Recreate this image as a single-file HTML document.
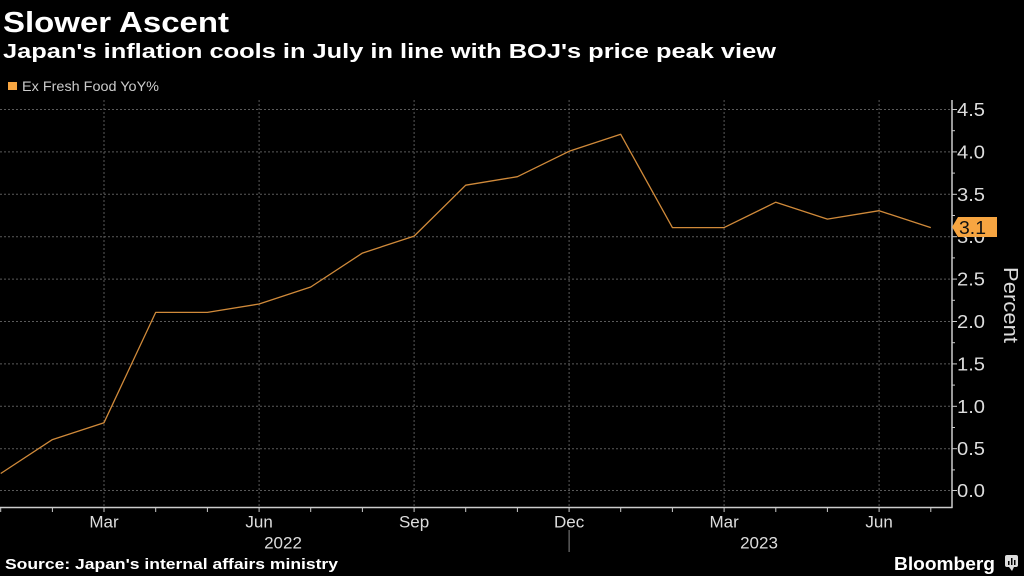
<!DOCTYPE html>
<html><head><meta charset="utf-8"><style>
html,body{margin:0;padding:0;background:#000;}
svg{display:block;}
text{font-family:"Liberation Sans",sans-serif;}
</style></head><body>
<svg width="1024" height="576" viewBox="0 0 1024 576" xmlns="http://www.w3.org/2000/svg">
<rect width="1024" height="576" fill="#000"/>
<text x="3" y="32" font-size="29" font-weight="bold" fill="#fff" textLength="226" lengthAdjust="spacingAndGlyphs">Slower Ascent</text>
<text x="3" y="58" font-size="20" font-weight="bold" fill="#fff" textLength="773" lengthAdjust="spacingAndGlyphs">Japan's inflation cools in July in line with BOJ's price peak view</text>
<rect x="8" y="82" width="9" height="8" fill="#f7a541"/>
<text x="22" y="91" font-size="14" fill="#ccc" textLength="137" lengthAdjust="spacingAndGlyphs">Ex Fresh Food YoY%</text>

<!-- horizontal grid -->
<g stroke="#5a5a5a" stroke-width="1" stroke-dasharray="2,2">
<line x1="0" x2="952" y1="109.5" y2="109.5"/>
<line x1="0" x2="952" y1="151.9" y2="151.9"/>
<line x1="0" x2="952" y1="194.3" y2="194.3"/>
<line x1="0" x2="952" y1="236.7" y2="236.7"/>
<line x1="0" x2="952" y1="279.1" y2="279.1"/>
<line x1="0" x2="952" y1="321.5" y2="321.5"/>
<line x1="0" x2="952" y1="363.9" y2="363.9"/>
<line x1="0" x2="952" y1="406.3" y2="406.3"/>
<line x1="0" x2="952" y1="448.7" y2="448.7"/>
<line x1="0" x2="952" y1="490.5" y2="490.5"/>
</g>
<!-- vertical grid -->
<g stroke="#5a5a5a" stroke-width="1" stroke-dasharray="2,2">
<line x1="104" x2="104" y1="100" y2="507"/>
<line x1="259.1" x2="259.1" y1="100" y2="507"/>
<line x1="414.1" x2="414.1" y1="100" y2="507"/>
<line x1="569.1" x2="569.1" y1="100" y2="507"/>
<line x1="724.1" x2="724.1" y1="100" y2="507"/>
<line x1="879.1" x2="879.1" y1="100" y2="507"/>
</g>

<!-- axes -->
<line x1="0" x2="952.5" y1="507.5" y2="507.5" stroke="#ccc" stroke-width="1.5"/>
<line x1="952" x2="952" y1="100" y2="508" stroke="#ccc" stroke-width="1.5"/>
<g stroke="#ccc" stroke-width="1">
<line x1="0.7" x2="0.7" y1="507" y2="512"/>
<line x1="52.4" x2="52.4" y1="507" y2="512"/>
<line x1="104" x2="104" y1="507" y2="512"/>
<line x1="155.7" x2="155.7" y1="507" y2="512"/>
<line x1="207.4" x2="207.4" y1="507" y2="512"/>
<line x1="259.1" x2="259.1" y1="507" y2="512"/>
<line x1="310.7" x2="310.7" y1="507" y2="512"/>
<line x1="362.4" x2="362.4" y1="507" y2="512"/>
<line x1="414.1" x2="414.1" y1="507" y2="512"/>
<line x1="465.7" x2="465.7" y1="507" y2="512"/>
<line x1="517.4" x2="517.4" y1="507" y2="512"/>
<line x1="569.1" x2="569.1" y1="507" y2="512"/>
<line x1="620.7" x2="620.7" y1="507" y2="512"/>
<line x1="672.4" x2="672.4" y1="507" y2="512"/>
<line x1="724.1" x2="724.1" y1="507" y2="512"/>
<line x1="775.8" x2="775.8" y1="507" y2="512"/>
<line x1="827.4" x2="827.4" y1="507" y2="512"/>
<line x1="879.1" x2="879.1" y1="507" y2="512"/>
<line x1="930.8" x2="930.8" y1="507" y2="512"/>
</g>
<!-- y ticks -->
<g stroke="#ccc" stroke-width="1">
<line x1="952" x2="957" y1="109.5" y2="109.5"/>
<line x1="952" x2="957" y1="151.9" y2="151.9"/>
<line x1="952" x2="957" y1="194.3" y2="194.3"/>
<line x1="952" x2="957" y1="236.7" y2="236.7"/>
<line x1="952" x2="957" y1="279.1" y2="279.1"/>
<line x1="952" x2="957" y1="321.5" y2="321.5"/>
<line x1="952" x2="957" y1="363.9" y2="363.9"/>
<line x1="952" x2="957" y1="406.3" y2="406.3"/>
<line x1="952" x2="957" y1="448.7" y2="448.7"/>
<line x1="952" x2="957" y1="490.5" y2="490.5"/>
<line x1="952" x2="955" y1="130.7" y2="130.7"/>
<line x1="952" x2="955" y1="173.1" y2="173.1"/>
<line x1="952" x2="955" y1="215.5" y2="215.5"/>
<line x1="952" x2="955" y1="257.9" y2="257.9"/>
<line x1="952" x2="955" y1="300.3" y2="300.3"/>
<line x1="952" x2="955" y1="342.7" y2="342.7"/>
<line x1="952" x2="955" y1="385.1" y2="385.1"/>
<line x1="952" x2="955" y1="427.5" y2="427.5"/>
<line x1="952" x2="955" y1="469.9" y2="469.9"/>
</g>
<g font-size="18" fill="#ddd">
<text x="957" y="116" textLength="28" lengthAdjust="spacingAndGlyphs">4.5</text>
<text x="957" y="158.4" textLength="28" lengthAdjust="spacingAndGlyphs">4.0</text>
<text x="957" y="200.8" textLength="28" lengthAdjust="spacingAndGlyphs">3.5</text>
<text x="957" y="243.2" textLength="28" lengthAdjust="spacingAndGlyphs">3.0</text>
<text x="957" y="285.6" textLength="28" lengthAdjust="spacingAndGlyphs">2.5</text>
<text x="957" y="328" textLength="28" lengthAdjust="spacingAndGlyphs">2.0</text>
<text x="957" y="370.4" textLength="28" lengthAdjust="spacingAndGlyphs">1.5</text>
<text x="957" y="412.8" textLength="28" lengthAdjust="spacingAndGlyphs">1.0</text>
<text x="957" y="455.2" textLength="28" lengthAdjust="spacingAndGlyphs">0.5</text>
<text x="957" y="497" textLength="28" lengthAdjust="spacingAndGlyphs">0.0</text>
</g>
<text transform="translate(1004,305) rotate(90)" font-size="20" fill="#ddd" text-anchor="middle" textLength="76" lengthAdjust="spacingAndGlyphs">Percent</text>

<!-- series -->
<polyline fill="none" stroke="#d08a3a" stroke-width="1.3" stroke-linejoin="round" points="0.7,473.5 52.4,439.6 104,422.7 155.7,312.4 207.4,312.4 259.1,304.0 310.7,287.0 362.4,253.1 414.1,236.1 465.7,185.2 517.4,176.7 569.1,151.3 620.7,134.3 672.4,227.6 724.1,227.6 775.8,202.2 827.4,219.1 879.1,210.7 930.8,227.6"/>

<!-- last value label -->
<polygon points="952,227 958,217 997,217 997,237 958,237" fill="#f7a541"/>
<text x="959" y="234" font-size="18" fill="#111" textLength="27" lengthAdjust="spacingAndGlyphs">3.1</text>

<!-- x labels -->
<g font-size="17" fill="#ddd" text-anchor="middle">
<text x="104" y="527.5">Mar</text>
<text x="259.1" y="527.5">Jun</text>
<text x="414.1" y="527.5">Sep</text>
<text x="569.1" y="527.5">Dec</text>
<text x="724.1" y="527.5">Mar</text>
<text x="879.1" y="527.5">Jun</text>
<text x="283" y="548.5">2022</text>
<text x="759" y="548.5">2023</text>
</g>
<line x1="569.1" x2="569.1" y1="530" y2="552" stroke="#888" stroke-width="1"/>

<text x="5" y="569" font-size="15" font-weight="bold" fill="#fff" textLength="333" lengthAdjust="spacingAndGlyphs">Source: Japan's internal affairs ministry</text>
<text x="894" y="570" font-size="18" font-weight="bold" fill="#fff" textLength="101" lengthAdjust="spacingAndGlyphs">Bloomberg</text>
<g>
<rect x="1005" y="555" width="13" height="12" rx="2" fill="#ddd"/>
<polygon points="1009,567 1012,571 1014,567" fill="#ddd"/>
<rect x="1008" y="561" width="1.5" height="4" fill="#000"/>
<rect x="1011" y="558" width="1.5" height="7" fill="#000"/>
<rect x="1014" y="560" width="1.5" height="5" fill="#000"/>
</g>
</svg>
</body></html>
